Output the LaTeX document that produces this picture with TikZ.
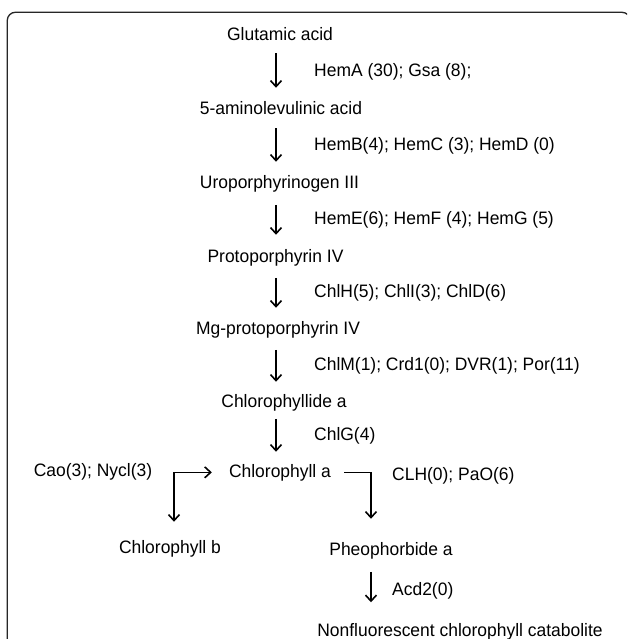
\documentclass[tikz,border=0pt]{standalone}
\usepackage{fontspec}
\setmainfont{Liberation Sans}[FakeStretch=0.97]
\usetikzlibrary{arrows.meta}
\begin{document}
\begin{tikzpicture}[x=1pt,y=-1pt,
  lbl/.style={inner sep=0pt, anchor=base, font=\fontsize{18}{21}\selectfont},
  gene/.style={inner sep=0pt, anchor=base west, font=\fontsize{18}{21}\selectfont},
  arr/.style={line width=1.6pt, -{Straight Barb[length=6pt,width=11pt,line width=1.6pt]}},
  darr/.style={line width=1.6pt, {Straight Barb[length=6pt,width=11pt,line width=1.6pt]}-{Straight Barb[length=6pt,width=11pt,line width=1.6pt]}},
  frame/.style={line width=1.3pt, rounded corners=8pt, draw=black!85}]
\useasboundingbox (0,0) rectangle (627,639);
\clip (0,0) rectangle (627,639);
\draw[frame] (7.3,660) -- (7.3,12.3) -- (630,12.3) -- (630,660);

\coordinate (ax) at (276,0);

\node[lbl] (glu) at (280,41) {Glutamic acid};
\node[lbl] (ala) at (281,115) {5-aminolevulinic acid};
\node[lbl] (uro) at (279.5,189) {Uroporphyrinogen III};
\node[lbl] (pro) at (275.5,262) {Protoporphyrin IV};
\node[lbl] (mg) at (278,334) {Mg-protoporphyrin IV};
\node[lbl] (chlide) at (284,407) {Chlorophyllide a};
\node[lbl] (chla) at (280,477) {Chlorophyll a};
\node[lbl] (chlb) at (170,553) {Chlorophyll b};
\node[lbl] (pheo) at (391,555) {Pheophorbide a};
\node[lbl] (ncc) at (460,636.5) {Nonfluorescent chlorophyll catabolite};

\node[gene] (g1) at (314,77) {HemA (30); Gsa (8);};
\node[gene] (g2) at (314,150) {HemB(4); HemC (3); HemD (0)};
\node[gene] (g3) at (314,224) {HemE(6); HemF (4); HemG (5)};
\node[gene] (g4) at (314,297) {ChlH(5); ChlI(3); ChlD(6)};
\node[gene] (g5) at (314,370) {ChlM(1); Crd1(0); DVR(1); Por(11)};
\node[gene] (g6) at (314,440) {ChlG(4)};
\node[lbl, anchor=base] (cao) at (93,476) {Cao(3); Nycl(3)};
\node[gene] (clh) at (392,480) {CLH(0); PaO(6)};
\node[gene] (acd) at (392,595) {Acd2(0)};

\draw[arr, shorten <=12pt, shorten >=14pt] (glu.south -| ax) -- (ala.north -| ax);
\draw[arr, shorten <=13pt, shorten >=14pt] (ala.south -| ax) -- (uro.north -| ax);
\draw[arr, shorten <=12pt, shorten >=14pt] (uro.south -| ax) -- (pro.north -| ax);
\draw[arr, shorten <=12pt, shorten >=13pt] (pro.south -| ax) -- (mg.north -| ax);
\draw[arr, shorten <=12pt, shorten >=12pt] (mg.south -| ax) -- (chlide.north -| ax);
\draw[arr, shorten <=8pt, shorten >=12pt] (chlide.south -| ax) -- (chla.north -| ax);

\draw[darr, shorten <=17pt, shorten >=18pt] (chla.west) -| ([xshift=4pt]chlb.north);
\draw[arr, shorten <=13pt, shorten >=23pt] (chla.east) -| ([xshift=-20pt]pheo.north);
\draw[arr, shorten <=13pt, shorten >=21pt] ([xshift=-20pt]pheo.south) -- ([xshift=-20pt]pheo.south |- ncc.north);
\end{tikzpicture}
\end{document}
